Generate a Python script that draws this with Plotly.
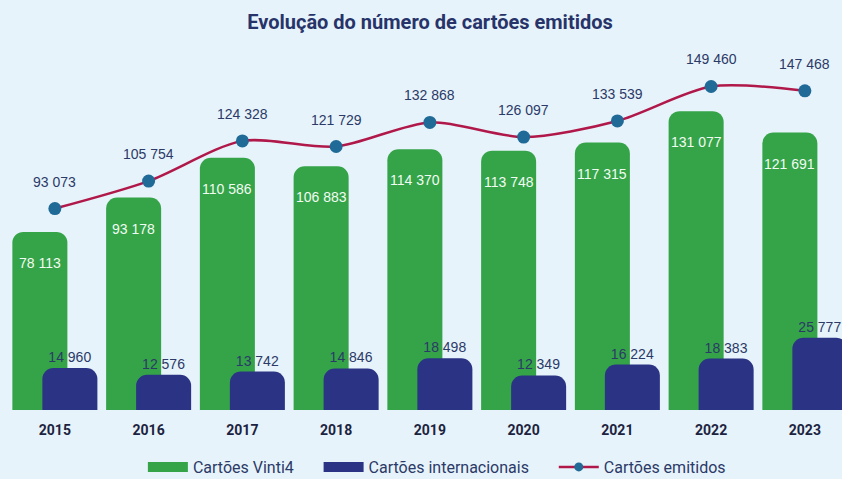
import plotly.graph_objects as go

years = ['2015', '2016', '2017', '2018', '2019', '2020', '2021', '2022', '2023']
vinti4 = [78113, 93178, 110586, 106883, 114370, 113748, 117315, 131077, 121691]
internacionais = [14960, 12576, 13742, 14846, 18498, 12349, 16224, 18383, 25777]
emitidos = [93073, 105754, 124328, 121729, 132868, 126097, 133539, 149460, 147468]

GREEN = '#35a449'
NAVY = '#2b3484'
LINE = '#b0184a'
MARK = '#1f6a96'
TXT = '#2b3a67'
BG = '#e7f3fb'


def fmt(v):
    return f"{v:,}".replace(',', ' ')


xs = list(range(len(years)))
W = 0.587
OFF = 0.16
PAD = '\u00a0' * 5

fig = go.Figure()
fig.add_trace(go.Bar(
    x=xs, y=vinti4, name='Cartões Vinti4', marker=dict(color=GREEN, line=dict(width=0)),
    width=W, offset=-OFF - W / 2, yaxis='y', hoverinfo='skip', showlegend=False))
fig.add_trace(go.Bar(
    x=xs, y=internacionais, name='Cartões internacionais', marker=dict(color=NAVY, line=dict(width=0)),
    width=W, offset=OFF - W / 2, yaxis='y2',
    text=[fmt(v) for v in internacionais], textposition='outside', constraintext='none',
    textfont=dict(family='Liberation Sans, Arial', size=14, color=TXT), hoverinfo='skip',
    showlegend=False))
fig.add_trace(go.Scatter(
    x=xs, y=emitidos, name='Cartões emitidos', mode='lines+markers', yaxis='y3',
    line=dict(color=LINE, width=2.5, shape='spline', smoothing=0.8),
    marker=dict(color=MARK, size=13), hoverinfo='skip', showlegend=False))

# legend-only entries (wide swatches like the reference)
fig.add_trace(go.Scatter(x=[None], y=[None], mode='lines', name='Cartões Vinti4' + PAD,
                         line=dict(color=GREEN, width=14), legendrank=1))
fig.add_trace(go.Scatter(x=[None], y=[None], mode='lines', name='Cartões internacionais' + PAD,
                         line=dict(color=NAVY, width=14), legendrank=2))
fig.add_trace(go.Scatter(x=[None], y=[None], mode='lines+markers', name='Cartões emitidos',
                         line=dict(color=LINE, width=2.5), marker=dict(color=MARK, size=9), legendrank=3))

annotations = []
for i, v in enumerate(vinti4):
    annotations.append(dict(x=i - OFF, y=v, xref='x', yref='y', yshift=-31, text=fmt(v),
                            showarrow=False, font=dict(family='Liberation Sans, Arial', size=14, color='#f2fbf2')))
for i, v in enumerate(emitidos):
    annotations.append(dict(x=i, y=v, xref='x', yref='y3', yshift=27, text=fmt(v),
                            showarrow=False, font=dict(family='Liberation Sans, Arial', size=14, color=TXT)))

fig.update_layout(
    width=842, height=479,
    paper_bgcolor=BG, plot_bgcolor=BG,
    margin=dict(l=8, r=0, t=60, b=69),
    barmode='overlay', barcornerradius=11,
    title=dict(text='<b>Evolução do número de cartões emitidos</b>', x=430 / 842, xanchor='center',
               y=1 - 22 / 479, yanchor='middle', yref='container',
               font=dict(family='Roboto', size=20, color='#27346a')),
    xaxis=dict(range=[-0.5, 8.396], tickmode='array', tickvals=xs, ticktext=years,
               showgrid=False, zeroline=False, showline=False, ticklabelstandoff=10,
               tickfont=dict(family='Roboto', size=14, color='#1c2340', weight='bold')),
    yaxis=dict(range=[0, 153500], visible=False, showgrid=False),
    yaxis2=dict(range=[0, 125000], visible=False, overlaying='y', showgrid=False),
    yaxis3=dict(range=[0, 161700], visible=False, overlaying='y', showgrid=False),
    legend=dict(orientation='h', x=433 / 842, xanchor='center', y=1 - 467 / 479, yanchor='middle',
                yref='container', font=dict(family='Roboto', size=16, color=TXT),
                bgcolor='rgba(0,0,0,0)', itemwidth=40),
    annotations=annotations,
)

fig.write_html('out.html', config={'displayModeBar': False})
with open('out.html', encoding='utf-8') as f:
    html = f.read()
html = html.replace('<head>', '<head><style>html,body{margin:0;padding:0;overflow:hidden;}</style>', 1)
with open('out.html', 'w', encoding='utf-8') as f:
    f.write(html)
